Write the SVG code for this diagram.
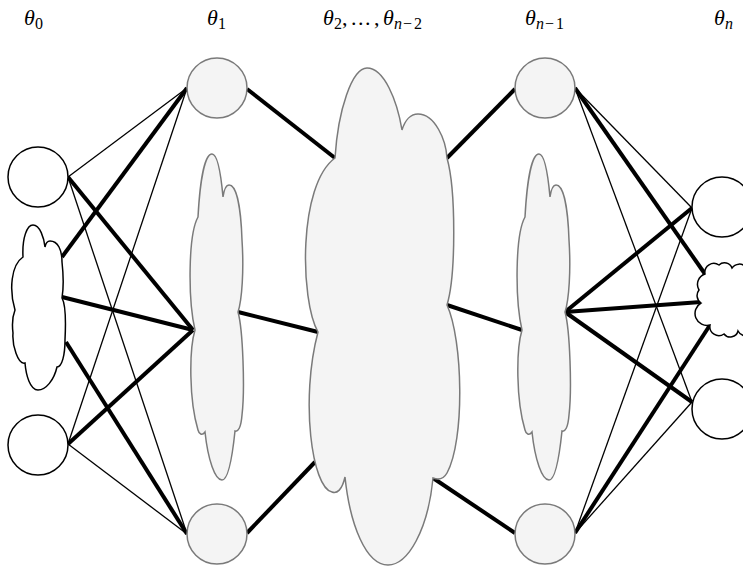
<svg xmlns="http://www.w3.org/2000/svg" width="743" height="566" viewBox="0 0 743 566">
  <style>
    .lbl { font-family: "Liberation Serif", "DejaVu Serif", serif; font-size: 22px; fill: #000; }
    .it { font-style: italic; }
    .sub { font-size: 16px; }
    .open { fill: #fff; stroke: #000; stroke-width: 1.5; }
    .shade { fill: #f4f4f4; stroke: #7a7a7a; stroke-width: 1.5; }
    .thin { stroke: #000; stroke-width: 1.3; fill: none; }
    .thick { stroke: #000; stroke-width: 4; fill: none; }
  </style>

  <!-- column labels -->
  <g id="labels">
    <text class="lbl"><tspan class="it" x="24" y="25">θ</tspan><tspan class="sub" x="35" y="29">0</tspan></text>
    <text class="lbl"><tspan class="it" x="207" y="25">θ</tspan><tspan class="sub" x="218" y="29">1</tspan></text>
    <text class="lbl"><tspan class="it" x="323" y="25">θ</tspan><tspan class="sub" x="334" y="29">2</tspan><tspan x="342" y="25">,</tspan><tspan x="351 358 365" y="25">...</tspan><tspan x="374" y="25">,</tspan><tspan class="it" x="383" y="25">θ</tspan><tspan class="sub it" x="394" y="29">n</tspan><tspan class="sub" x="403" y="29">−</tspan><tspan class="sub" x="414" y="29">2</tspan></text>
    <text class="lbl"><tspan class="it" x="525" y="25">θ</tspan><tspan class="sub it" x="536" y="29">n</tspan><tspan class="sub" x="545" y="29">−</tspan><tspan class="sub" x="556" y="29">1</tspan></text>
    <text class="lbl"><tspan class="it" x="714" y="25">θ</tspan><tspan class="sub it" x="725" y="29">n</tspan></text>
  </g>

  <!-- connectors -->
  <g id="connectors">
    <!-- layer 0 to layer 1 -->
    <line class="thin" x1="68" y1="177" x2="187" y2="88"/>
    <line class="thick" x1="68" y1="177" x2="193" y2="330"/>
    <line class="thin" x1="68" y1="177" x2="187" y2="534"/>
    <line class="thick" x1="62" y1="257" x2="187" y2="88"/>
    <line class="thick" x1="62" y1="297" x2="193" y2="330"/>
    <line class="thick" x1="66" y1="342" x2="187" y2="534"/>
    <line class="thin" x1="68" y1="444" x2="187" y2="88"/>
    <line class="thick" x1="68" y1="444" x2="193" y2="330"/>
    <line class="thin" x1="68" y1="444" x2="187" y2="534"/>
    <!-- layer 1 to middle -->
    <line class="thick" x1="247" y1="89" x2="335" y2="158"/>
    <line class="thick" x1="238" y1="312" x2="318" y2="332"/>
    <line class="thick" x1="247" y1="533" x2="315" y2="462"/>
    <!-- middle to layer n-1 -->
    <line class="thick" x1="447" y1="158" x2="515" y2="89"/>
    <line class="thick" x1="447" y1="305" x2="522" y2="330"/>
    <line class="thick" x1="433" y1="478" x2="515" y2="533"/>
    <!-- layer n-1 to layer n -->
    <line class="thin" x1="575" y1="88" x2="692" y2="208"/>
    <line class="thick" x1="575" y1="88" x2="705" y2="274"/>
    <line class="thin" x1="575" y1="88" x2="692" y2="402"/>
    <line class="thick" x1="565" y1="312" x2="692" y2="208"/>
    <line class="thick" x1="565" y1="312" x2="701" y2="302"/>
    <line class="thick" x1="565" y1="312" x2="692" y2="402"/>
    <line class="thin" x1="575" y1="533" x2="692" y2="208"/>
    <line class="thick" x1="575" y1="533" x2="710" y2="325"/>
    <line class="thin" x1="575" y1="533" x2="692" y2="402"/>
  </g>

  <!-- layer 0 -->
  <g id="n0-top"><circle class="open" cx="38" cy="177" r="30"/></g>
  <g id="n0-cloud">
    <path class="open" d="M15,310 C9,290 11,265 23,257 C22,238 27,225 33,225 C40,225 44,238 45,247 C46,242 48,241 50,241 C58,241 62,250 62,262 C64,280 63,292 62,298 C66,305 66,320 65,340 C65,355 62,367 57,367 C54,380 46,390 38,390 C30,390 26,375 25,363 C18,365 12,345 13,333 C12,325 13,315 15,310 Z"/>
  </g>
  <g id="n0-bottom"><circle class="open" cx="38" cy="445" r="30"/></g>

  <!-- layer 1 -->
  <g id="n1-top"><circle class="shade" cx="217" cy="88" r="30"/></g>
  <g id="n1-cloud">
    <path class="shade" d="M195,330 C188,300 188,235 198,217 C200,180 205,154 212,154 C218,154 221,175 223,197 C224,190 226,185 229,185 C237,185 241,210 242,240 C244,270 242,300 238,312 C243,330 245,390 242,415 C241,428 238,432 235,431 C232,460 228,480 222,480 C215,480 208,460 205,432 C202,436 199,434 198,430 C189,400 189,350 195,330 Z"/>
  </g>
  <g id="n1-bottom"><circle class="shade" cx="217" cy="534" r="30"/></g>

  <!-- layers 2 .. n-2 -->
  <g id="n-mid">
    <path class="shade" d="M318,332 C300,300 298,185 335,158 C338,110 352,68 367,68 C384,68 397,100 402,130 C405,120 411,114 418,114 C435,114 446,140 447,158 C456,190 456,275 447,305 C463,340 465,440 447,473 C443,480 438,480 433,478 C428,530 408,565 388,565 C366,565 350,525 345,477 C342,490 337,494 332,492 C312,488 300,400 318,332 Z"/>
  </g>

  <!-- layer n-1 -->
  <g id="nm1-top"><circle class="shade" cx="545" cy="88" r="30"/></g>
  <g id="nm1-cloud">
    <path class="shade" transform="translate(327,0)" d="M195,330 C188,300 188,235 198,217 C200,180 205,154 212,154 C218,154 221,175 223,197 C224,190 226,185 229,185 C237,185 241,210 242,240 C244,270 242,300 238,312 C243,330 245,390 242,415 C241,428 238,432 235,431 C232,460 228,480 222,480 C215,480 208,460 205,432 C202,436 199,434 198,430 C189,400 189,350 195,330 Z"/>
  </g>
  <g id="nm1-bottom"><circle class="shade" cx="545" cy="534" r="30"/></g>

  <!-- layer n -->
  <g id="nn-top"><circle class="open" cx="722" cy="207" r="30"/></g>
  <g id="nn-cloud">
    <path class="open" d="M701,303 A9 9 0 0 1 699,290 A11 11 0 0 1 705,274 A9 9 0 0 1 719,265 A8 8 0 0 1 732,268 A9 9 0 0 1 746,267 A20 20 0 0 1 750,335 A9 9 0 0 1 738,331 A8 8 0 0 1 724,334 A9 9 0 0 1 710,325 A12 12 0 0 1 701,303 Z"/>
  </g>
  <g id="nn-bottom"><circle class="open" cx="722" cy="409" r="30"/></g>
</svg>
